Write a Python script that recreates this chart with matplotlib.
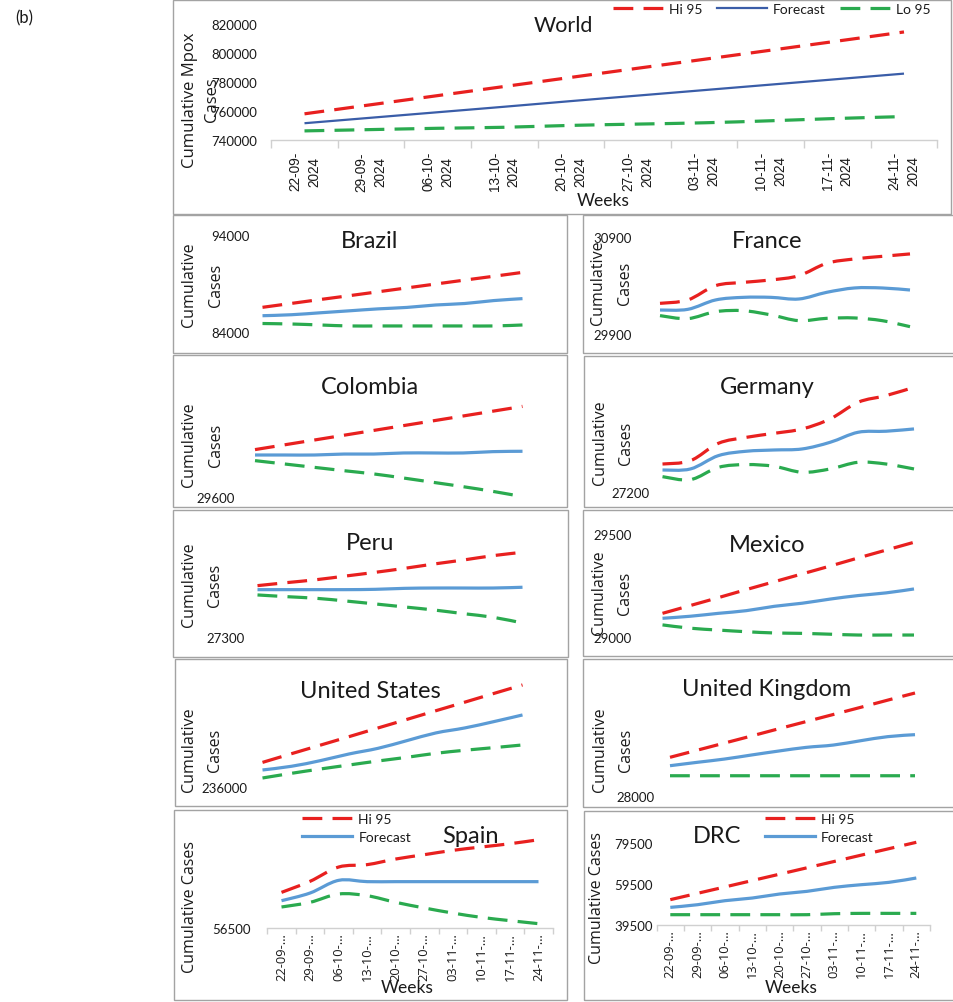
import numpy as np
import matplotlib
matplotlib.use("Agg")
import matplotlib.pyplot as plt
from matplotlib.path import Path
from matplotlib.patches import PathPatch, Rectangle
from matplotlib.lines import Line2D

# ---------------------------------------------------------------- data
weeks = ["22-09-2024", "29-09-2024", "06-10-2024", "13-10-2024", "20-10-2024",
         "27-10-2024", "03-11-2024", "10-11-2024", "17-11-2024", "24-11-2024"]

world_hi = [758100, 764400, 770700, 777000, 783300, 789600, 795800, 802100, 808400, 814700]
world_fc = [751600, 755400, 759200, 763000, 766900, 770700, 774500, 778300, 782100, 785900]
world_lo = [746300, 747200, 748100, 748800, 750100, 751000, 751900, 753300, 754900, 756200]

brazil_hi = [86560, 86960, 87360, 87750, 88150, 88550, 88950, 89350, 89740, 90140]
brazil_fc = [85700, 85800, 86000, 86200, 86400, 86550, 86800, 86950, 87250, 87450]
brazil_lo = [84900, 84850, 84750, 84650, 84650, 84650, 84650, 84650, 84650, 84750]

france_hi = [30217, 30252, 30400, 30434, 30459, 30503, 30631, 30676, 30703, 30728]
france_fc = [30148, 30155, 30252, 30279, 30279, 30262, 30331, 30376, 30376, 30355]
france_lo = [30090, 30059, 30131, 30141, 30097, 30038, 30062, 30066, 30038, 29976]

colombia_hi = [29995, 30035, 30075, 30115, 30155, 30195, 30235, 30275, 30315, 30355]
colombia_fc = [29950, 29950, 29950, 29958, 29958, 29967, 29967, 29967, 29978, 29981]
colombia_lo = [29903, 29875, 29847, 29819, 29792, 29758, 29722, 29686, 29647, 29603]

germany_hi = [27446, 27475, 27626, 27678, 27713, 27751, 27838, 27983, 28041, 28113]
germany_fc = [27394, 27403, 27519, 27557, 27568, 27577, 27635, 27722, 27731, 27751]
germany_lo = [27336, 27310, 27417, 27441, 27426, 27374, 27403, 27461, 27446, 27403]

peru_hi = [27777, 27805, 27832, 27866, 27900, 27937, 27977, 28014, 28054, 28085]
peru_fc = [27740, 27740, 27740, 27740, 27743, 27752, 27755, 27755, 27755, 27762]
peru_lo = [27691, 27675, 27660, 27635, 27608, 27580, 27552, 27518, 27485, 27432]

mexico_hi = [29116, 29154, 29192, 29231, 29269, 29307, 29345, 29384, 29422, 29460]
mexico_fc = [29092, 29102, 29116, 29129, 29150, 29165, 29185, 29202, 29215, 29234]
mexico_lo = [29060, 29044, 29035, 29027, 29021, 29019, 29015, 29011, 29011, 29011]

us_hi = [238300, 239100, 239890, 240680, 241480, 242270, 243070, 243860, 244660, 245450]
us_fc = [237600, 237940, 238460, 239080, 239600, 240310, 241020, 241480, 242060, 242680]
us_lo = [236860, 237290, 237690, 238060, 238430, 238770, 239140, 239420, 239660, 239910]

uk_hi = [28329, 28390, 28451, 28512, 28574, 28635, 28696, 28757, 28819, 28880]
uk_fc = [28257, 28286, 28314, 28349, 28383, 28414, 28434, 28471, 28506, 28523]
uk_lo = [28171, 28171, 28171, 28171, 28171, 28171, 28171, 28171, 28171, 28171]

spain_hi = [56829, 56931, 57063, 57085, 57137, 57177, 57217, 57248, 57278, 57315]
spain_fc = [56752, 56823, 56940, 56928, 56928, 56928, 56928, 56928, 56928, 56928]
spain_lo = [56694, 56737, 56814, 56798, 56737, 56685, 56638, 56598, 56568, 56540]

drc_hi = [51800, 54930, 58060, 61200, 64330, 67460, 70590, 73730, 76860, 79990]
drc_fc = [48020, 49330, 51300, 52610, 54580, 55890, 57860, 59170, 60320, 62450]
drc_lo = [44420, 44420, 44420, 44420, 44420, 44420, 44900, 45070, 45070, 45070]

series_names = ["Hi 95", "Forecast", "Lo 95"]

# ---------------------------------------------------------------- style
W, H = 954, 1003
RED = "#e8201f"
GREEN = "#2aaa4f"
BLUE = "#5b9bd5"
BLUE_DARK = "#3a5da8"
BORDER = "#a3a3a3"
AXIS = "#d0d0d0"
TXT = "#1a1a1a"
DASH = (0, (6.2, 3.2))
TITLE_FONT = "Lato"
LABEL_FONT = "Open Sans"

fig = plt.figure(figsize=(W / 100, H / 100), dpi=100)
fig.patch.set_facecolor("white")


def fx(px):
    return px / W


def fy(py):
    return 1 - py / H


def frame(x0, y0, x1, y1):
    fig.patches.append(Rectangle((fx(x0), fy(y1)), (x1 - x0) / W, (y1 - y0) / H,
                                 transform=fig.transFigure, fill=False,
                                 ec=BORDER, lw=1.0, zorder=0))


def smooth_path(xs, ys):
    """Cubic Bezier path through the points (spreadsheet-style smoothed line)."""
    p = np.column_stack([xs, ys]).astype(float)
    n = len(p)
    verts = [p[0]]
    codes = [Path.MOVETO]
    for i in range(n - 1):
        pm = p[i - 1] if i > 0 else p[i]
        pp = p[i + 2] if i + 2 < n else p[i + 1]
        verts += [p[i] + (p[i + 1] - pm) / 6, p[i + 1] - (pp - p[i]) / 6, p[i + 1]]
        codes += [Path.CURVE4] * 3
    return Path(verts, codes)


def panel_axes(x_first, x_last, y_lo_px, y_hi_px, v_lo, v_hi):
    n = len(weeks)
    step = (x_last - x_first) / (n - 1)
    left, right = x_first - step / 2, x_last + step / 2
    ax = fig.add_axes([fx(left), fy(y_lo_px), (right - left) / W, (y_lo_px - y_hi_px) / H])
    ax.set_xlim(-0.5, n - 0.5)
    ax.set_ylim(v_lo, v_hi)
    ax.patch.set_alpha(0)
    for s in ax.spines.values():
        s.set_visible(False)
    ax.set_xticks([])
    return ax, left


def draw_series(ax, hi, fc, lo, fc_color, fc_lw):
    x = np.arange(len(weeks))
    for vals, col, lw, ls in ((hi, RED, 2.3, DASH), (fc, fc_color, fc_lw, "-"),
                              (lo, GREEN, 2.3, DASH)):
        ax.add_patch(PathPatch(smooth_path(x, vals), fill=False, ec=col, lw=lw,
                               ls=ls, capstyle="butt", joinstyle="round",
                               clip_on=False))


def y_ticks(ax, left_px, vals, label_right_px, size):
    ax.set_yticks(vals)
    ax.set_yticklabels([str(v) for v in vals], fontfamily=TITLE_FONT, fontsize=size,
                       color=TXT)
    ax.tick_params(axis="y", length=0, pad=(left_px - label_right_px) * 0.72)


def date_axis(ax, labels, pad, size, family, tick_len, linespacing=1.2):
    n = len(weeks)
    ax.spines["bottom"].set_visible(True)
    ax.spines["bottom"].set_color(AXIS)
    ax.spines["bottom"].set_linewidth(1.0)
    ax.set_xticks(range(n))
    ax.set_xticklabels(labels, rotation=90, fontsize=size, fontfamily=family,
                       color=TXT, multialignment="center", linespacing=linespacing)
    ax.set_xticks(np.arange(-0.5, n), minor=True)
    ax.tick_params(axis="x", which="major", length=0, pad=pad)
    ax.tick_params(axis="x", which="minor", length=tick_len, color=AXIS, width=1.0)


def legend_at(ax, handles, labels, x_px, y_px, ncol, colsp=1.0):
    leg = ax.legend(handles, labels, loc="upper left",
                    bbox_to_anchor=(fx(x_px), fy(y_px)),
                    bbox_transform=fig.transFigure, ncol=ncol, frameon=False,
                    borderpad=0, borderaxespad=0, handlelength=3.6,
                    handletextpad=0.45, columnspacing=colsp, labelspacing=0.45,
                    prop={"family": TITLE_FONT, "size": 10})
    for t in leg.get_texts():
        t.set_color(TXT)


def label_text(x, y, s, size, family, **kw):
    fig.text(fx(x), fy(y), s, fontsize=size, fontfamily=family, color=TXT,
             ha="center", va="center", **kw)


# ---------------------------------------------------------------- (b)
label_text(24, 18, "(b)", 12, TITLE_FONT)

# ---------------------------------------------------------------- World
frame(173, 1, 951, 215)
ax, left = panel_axes(304.5, 904, 141, 25.3, 740000, 820000)
draw_series(ax, world_hi, world_fc, world_lo, BLUE_DARK, 1.6)
y_ticks(ax, left, [740000, 760000, 780000, 800000, 820000], 257, 9.5)
date_axis(ax, [w[:6] + "\n" + w[6:] for w in weeks], pad=8, size=9.8,
          family="Liberation Sans", tick_len=6, linespacing=1.45)
h_hi = Line2D([], [], color=RED, lw=2.3, ls=DASH, dash_capstyle="butt")
h_fc_dark = Line2D([], [], color=BLUE_DARK, lw=1.6)
h_fc = Line2D([], [], color=BLUE, lw=2.3)
h_lo = Line2D([], [], color=GREEN, lw=2.3, ls=DASH, dash_capstyle="butt")
legend_at(ax, [h_hi, h_fc_dark, h_lo], series_names, 613, 4, ncol=3, colsp=1.0)
label_text(563, 26, "World", 15.5, TITLE_FONT)
label_text(603, 201, "Weeks", 12.5, TITLE_FONT)
label_text(201, 100, "Cumulative Mpox\nCases", 12, LABEL_FONT, rotation=90,
           multialignment="center", linespacing=1.5)

# ---------------------------------------------------------------- country panels
small = [
    # name, hi, fc, lo, frame, (x_first, x_last, y_lo_px, y_hi_px, v_lo, v_hi),
    # ticks, label right edge, title centre, y-label centre
    ("Brazil", brazil_hi, brazil_fc, brazil_lo, (173, 216, 567, 354),
     (262.5, 522.5, 333.3, 235.7, 84000, 94000), [84000, 94000], 250, (370, 242), (202.5, 285)),
    ("France", france_hi, france_fc, france_lo, (583, 216, 957, 354),
     (660, 910, 335, 238.3, 29900, 30900), [29900, 30900], 632, (767, 242), (611.5, 283)),
    ("Colombia", colombia_hi, colombia_fc, colombia_lo, (173, 356, 567, 508),
     (255, 522.5, 498, 378, 29600, 30600), [29600], 235, (370, 388), (202.5, 445)),
    ("Germany", germany_hi, germany_fc, germany_lo, (584, 357, 957, 508),
     (662.5, 914, 493.3, 378.3, 27200, 28200), [27200], 650, (767, 387), (613, 443)),
    ("Peru", peru_hi, peru_fc, peru_lo, (173, 511, 568, 658),
     (257.5, 522.5, 638.3, 530, 27300, 28300), [27300], 245, (370, 543), (202, 585)),
    ("Mexico", mexico_hi, mexico_fc, mexico_lo, (583, 511, 957, 657),
     (662.5, 914, 638.3, 535, 29000, 29500), [29000, 29500], 632, (767, 545), (612, 593)),
    ("United States", us_hi, us_fc, us_lo, (175, 660, 567, 807),
     (262.5, 522.5, 788.3, 680, 236000, 246000), [236000], 247, (370, 692), (202, 750)),
    ("United Kingdom", uk_hi, uk_fc, uk_lo, (583, 660, 957, 808),
     (670, 915, 796.7, 680, 28000, 29000), [28000], 655, (767, 690), (613, 750)),
]

for name, hi, fc, lo, fr, geo, ticks, lab_r, tpos, ypos in small:
    frame(*fr)
    ax, left = panel_axes(*geo)
    draw_series(ax, hi, fc, lo, BLUE, 2.3)
    y_ticks(ax, left, ticks, lab_r, 9.5)
    label_text(tpos[0], tpos[1], name, 17, TITLE_FONT)
    label_text(ypos[0], ypos[1], "Cumulative\nCases", 11.5, LABEL_FONT, rotation=90,
               multialignment="center", linespacing=1.85)

# ---------------------------------------------------------------- Spain / DRC
short = [w[:6] + "\u2026" for w in weeks]
bottom = [
    # name, hi, fc, lo, frame, geometry, ticks, label right edge, title centre,
    # y-label centre, legend left, "Weeks" centre x
    ("Spain", spain_hi, spain_fc, spain_lo, (174, 811, 567, 1001),
     (281.5, 538.5, 929, 820.7, 56500, 57500), [56500], 251, (470, 837), (190, 907), 302, 407),
    ("DRC", drc_hi, drc_fc, drc_lo, (584, 812, 957, 1001),
     (670.3, 916.3, 925.7, 844.3, 39500, 79500), [39500, 59500, 79500], 653, (717, 837), (597, 898), 765, 791),
]
for name, hi, fc, lo, fr, geo, ticks, lab_r, tpos, ypos, leg_x, weeks_x in bottom:
    frame(*fr)
    ax, left = panel_axes(*geo)
    draw_series(ax, hi, fc, lo, BLUE, 2.3)
    y_ticks(ax, left, ticks, lab_r, 9.5)
    date_axis(ax, short, pad=3, size=9.3, family=LABEL_FONT, tick_len=4)
    legend_at(ax, [h_hi, h_fc], series_names[:2], leg_x, 814, ncol=1)
    label_text(tpos[0], tpos[1], name, 17, TITLE_FONT)
    label_text(weeks_x, 988, "Weeks", 12.5, TITLE_FONT)
    label_text(ypos[0], ypos[1], "Cumulative Cases", 11.5, LABEL_FONT, rotation=90)

fig.savefig("out.png", dpi=100, facecolor="white")
